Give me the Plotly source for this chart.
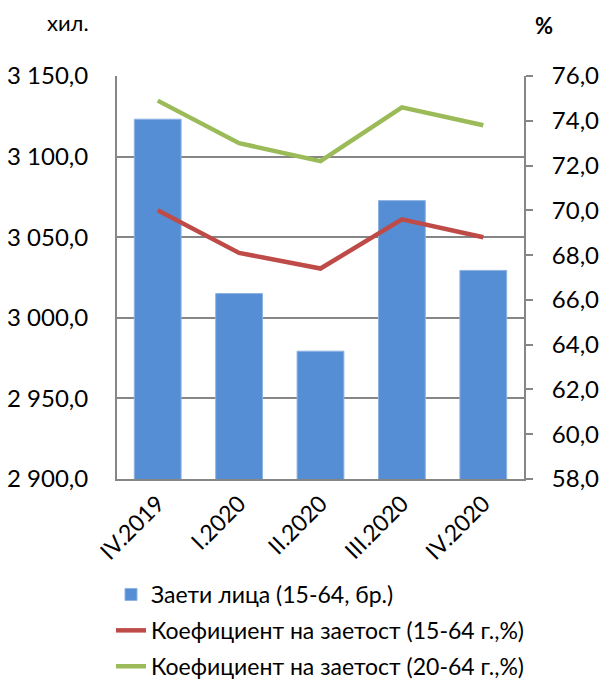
import plotly.graph_objects as go

categories = ["IV.2019", "I.2020", "II.2020", "III.2020", "IV.2020"]
employed = [3123.2, 3015.1, 2979.3, 3072.7, 3029.4]
rate_15_64 = [70.0, 68.1, 67.4, 69.6, 68.8]
rate_20_64 = [74.9, 73.0, 72.2, 74.6, 73.8]

names = ["Заети лица (15-64, бр.)",
         "Коефициент на заетост (15-64 г.,%)",
         "Коефициент на заетост (20-64 г.,%)"]

FONT = "Lato"
GRID = "#868686"
W, H = 600, 681
# desired plot area in page pixels
PL, PR, PT, PB = 117, 524, 76, 479
L, T, R, B = PL, PT, W - PR, H - PB
pw = W - L - R
ph = H - T - B


def px2paper(px, py):
    return (px - L) / pw, (H - B - py) / ph


fig = go.Figure()
fig.add_trace(go.Bar(x=categories, y=employed, name=names[0], legendgroup="a",
                     marker=dict(color="#558ED5", line=dict(color="#8DB3E2", width=1)),
                     yaxis="y"))
fig.add_trace(go.Scatter(x=categories, y=rate_15_64, name=names[1], mode="lines",
                         legendgroup="b",
                         line=dict(color="#BE4B48", width=4.5), yaxis="y2"))
fig.add_trace(go.Scatter(x=categories, y=rate_20_64, name=names[2], mode="lines",
                         legendgroup="c",
                         line=dict(color="#9BBB59", width=4.5), yaxis="y2"))

lx, ly = px2paper(111, 573)
ax1x, ax1y = px2paper(68, 23)
ax2x, ax2y = px2paper(544, 25)

fig.update_layout(
    width=W, height=H,
    margin=dict(l=L, r=R, t=T, b=B, autoexpand=False),
    paper_bgcolor="white", plot_bgcolor="white",
    font=dict(family=FONT, size=24, color="#000000"),
    separators=", ",
    bargap=0.425,
    showlegend=True,
    legend=dict(x=lx, y=ly, xanchor="left", yanchor="top",
                orientation="v", font=dict(size=23, family=FONT),
                traceorder="grouped", tracegroupgap=3,
                bgcolor="rgba(0,0,0,0)"),
    xaxis=dict(type="category", tickangle=-45, showline=True, linecolor=GRID,
               linewidth=2, ticks="", showgrid=False, automargin=False,
               tickfont=dict(size=23, family=FONT)),
    yaxis=dict(range=[2900, 3150], dtick=50, tickformat=",.1f",
               showline=True, linecolor=GRID, linewidth=2,
               showgrid=True, gridcolor=GRID, gridwidth=2, automargin=False,
               ticks="", ticklabelstandoff=22, zeroline=False,
               tickfont=dict(size=24, family=FONT)),
    yaxis2=dict(range=[58, 76], dtick=2, tickformat=".1f", overlaying="y",
                side="right", showline=True, linecolor=GRID, linewidth=2,
                showgrid=False, ticks="outside", ticklen=7, tickcolor=GRID,
                tickwidth=2, zeroline=False, ticklabelstandoff=14, automargin=False,
                tickfont=dict(size=24, family=FONT)),
    annotations=[
        dict(text="хил.", x=ax1x, y=ax1y, xref="paper", yref="paper",
             xanchor="center", yanchor="middle",
             showarrow=False, font=dict(size=22, family=FONT)),
        dict(text="<b>%</b>", x=ax2x, y=ax2y, xref="paper", yref="paper",
             xanchor="center", yanchor="middle",
             showarrow=False, font=dict(size=22, family=FONT)),
    ],
)

fig.write_html(
    "out.html",
    config={"displayModeBar": False},
    post_script="document.body.style.margin='0';document.body.style.overflow='hidden';",
)
